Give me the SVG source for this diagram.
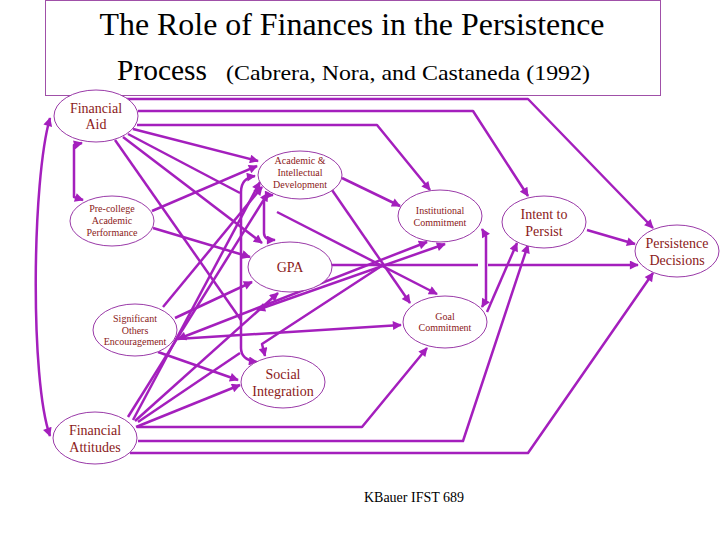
<svg xmlns="http://www.w3.org/2000/svg" width="720" height="540" viewBox="0 0 720 540">
<style>
.t{font-family:"Liberation Serif","Times New Roman",serif;fill:#000}
.n ellipse{fill:#fff;stroke:#9a3aa8;stroke-width:1}
.n text{font-family:"Liberation Serif","Times New Roman",serif;fill:#8b1a1a;text-anchor:middle}
.b{font-size:14px}
.s{font-size:10px}
.c path{fill:none;stroke:#a41fbd;stroke-width:2.5;stroke-linejoin:round}
</style>
<defs>
<marker id="a" viewBox="0 0 10 10" refX="9" refY="5" markerWidth="11" markerHeight="9" markerUnits="userSpaceOnUse" orient="auto-start-reverse"><path d="M0,0 L10,5 L0,10 z" fill="#a41fbd"/></marker>
</defs>
<rect x="45.5" y="0.5" width="615" height="95" fill="#fff" stroke="#a050a8" stroke-width="1"/>
<text class="t" x="352" y="35" font-size="31" text-anchor="middle" textLength="505" lengthAdjust="spacingAndGlyphs">The Role of Finances in the Persistence</text>
<text class="t" x="117" y="80" font-size="30" textLength="90" lengthAdjust="spacingAndGlyphs">Process</text>
<text class="t" x="226" y="80" font-size="22" textLength="364" lengthAdjust="spacingAndGlyphs">(Cabrera, Nora, and Castaneda (1992)</text>
<g class="c">
<path d="M50,118 C32,180 30,380 50,436" marker-start="url(#a)" marker-end="url(#a)"/>
<path d="M82,143 L74,145 L74,197 L83,200" marker-start="url(#a)" marker-end="url(#a)"/>
<path d="M122,99 L528,99 L653,228" marker-end="url(#a)"/>
<path d="M138,111 L473,111 L528,196" marker-end="url(#a)"/>
<path d="M137,125 L377,125 L430,190" marker-end="url(#a)"/>
<path d="M133,129 L258,161" marker-end="url(#a)"/>
<path d="M128,134 L240,193"/>
<path d="M277,212 L437,294" marker-end="url(#a)"/>
<path d="M115,140 L241,320"/>
<path d="M123,137 L262,243" marker-end="url(#a)"/>
<path d="M152,211 L257,166" marker-end="url(#a)"/>
<path d="M153,228 L250,257" marker-end="url(#a)"/>
<path d="M255,176 Q241,178 241,192 L241,348 Q241,360 257,362" marker-start="url(#a)" marker-end="url(#a)"/>
<path d="M273,195 Q264,195 264,202 L264,233 Q264,240 275,240" marker-start="url(#a)" marker-end="url(#a)"/>
<path d="M342,178 L400,206" marker-end="url(#a)"/>
<path d="M332,190 L410,303" marker-end="url(#a)"/>
<path d="M332,265 L478,265"/>
<path d="M488,265 L638,265" marker-end="url(#a)"/>
<path d="M482,229 L486,236 L486,300 L482,307" marker-start="url(#a)" marker-end="url(#a)"/>
<path d="M487,312 L517,243" marker-end="url(#a)"/>
<path d="M587,230 L635,244" marker-end="url(#a)"/>
<path d="M175,318 L252,282" marker-end="url(#a)"/>
<path d="M177,339 L401,325" marker-end="url(#a)"/>
<path d="M178,339 L427,242" marker-start="url(#a)" marker-end="url(#a)"/>
<path d="M158,352 L238,380" marker-end="url(#a)"/>
<path d="M163,307 L262,187" marker-end="url(#a)"/>
<path d="M257,310 L445,244" marker-start="url(#a)" marker-end="url(#a)"/>
<path d="M383,265 L262,344 L265,356" marker-end="url(#a)"/>
<path d="M128,417 L268,193" marker-end="url(#a)"/>
<path d="M133,420 L260,182" marker-end="url(#a)"/>
<path d="M135,421 L278,293" marker-end="url(#a)"/>
<path d="M136,427 L240,385" marker-end="url(#a)"/>
<path d="M138,422 L240,353"/>
<path d="M137,427 L362,427 L427,348" marker-end="url(#a)"/>
<path d="M138,441 L463,441 L528,245" marker-end="url(#a)"/>
<path d="M130,453 L528,453 L653,273" marker-end="url(#a)"/>
</g>
<g id="financial-aid" class="n"><ellipse cx="96" cy="116" rx="42" ry="26"/><text class="b" x="96" y="113">Financial</text><text class="b" x="96" y="129">Aid</text></g>
<g id="academic" class="n"><ellipse cx="300" cy="175" rx="42" ry="24"/><text class="s" x="300" y="164">Academic &amp;</text><text class="s" x="300" y="176">Intellectual</text><text class="s" x="300" y="188">Development</text></g>
<g id="pre-college" class="n"><ellipse cx="112" cy="221" rx="42" ry="25"/><text class="s" x="112" y="212">Pre-college</text><text class="s" x="112" y="224">Academic</text><text class="s" x="112" y="236">Performance</text></g>
<g id="institutional" class="n"><ellipse cx="440" cy="216" rx="42" ry="26"/><text class="s" x="440" y="214">Institutional</text><text class="s" x="440" y="226">Commitment</text></g>
<g id="intent" class="n"><ellipse cx="544" cy="222" rx="42" ry="26"/><text class="b" x="544" y="219">Intent to</text><text class="b" x="544" y="236">Persist</text></g>
<g id="persistence" class="n"><ellipse cx="677" cy="251" rx="42" ry="26"/><text class="b" x="677" y="248">Persistence</text><text class="b" x="677" y="265">Decisions</text></g>
<g id="gpa" class="n"><ellipse cx="290" cy="267" rx="42" ry="25"/><text class="b" x="290" y="272">GPA</text></g>
<g id="goal" class="n"><ellipse cx="445" cy="322" rx="42" ry="26"/><text class="s" x="445" y="320">Goal</text><text class="s" x="445" y="331">Commitment</text></g>
<g id="significant" class="n"><ellipse cx="135" cy="330" rx="42" ry="26"/><text class="s" x="135" y="322">Significant</text><text class="s" x="135" y="334">Others</text><text class="s" x="135" y="345">Encouragement</text></g>
<g id="social" class="n"><ellipse cx="283" cy="382" rx="42" ry="26"/><text class="b" x="283" y="379">Social</text><text class="b" x="283" y="396">Integration</text></g>
<g id="financial-attitudes" class="n"><ellipse cx="95" cy="438" rx="42" ry="26"/><text class="b" x="95" y="435">Financial</text><text class="b" x="95" y="452">Attitudes</text></g>
<text class="t" x="414" y="502" font-size="14" text-anchor="middle">KBauer IFST 689</text>
</svg>
